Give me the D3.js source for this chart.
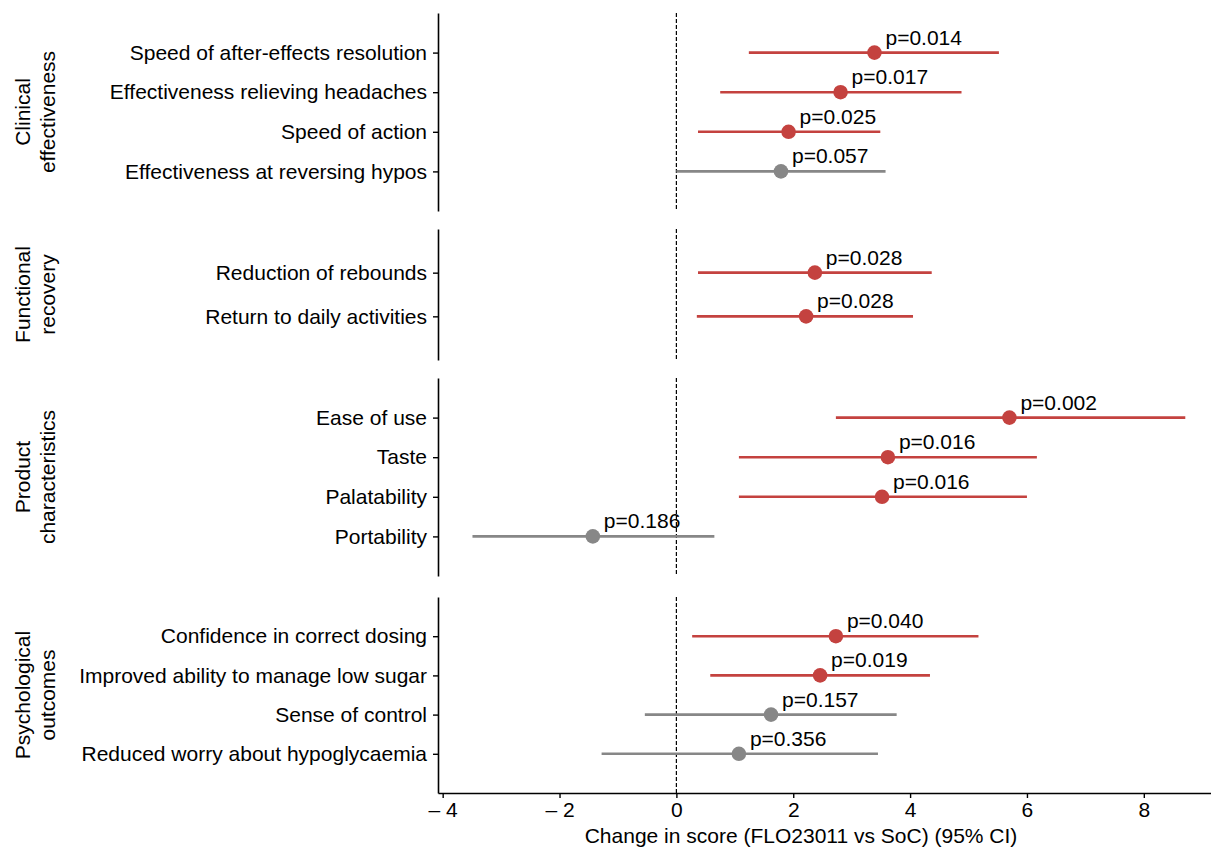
<!DOCTYPE html>
<html>
<head>
<meta charset="utf-8">
<script src="https://cdn.jsdelivr.net/npm/d3@7"></script>
<style>
  body { margin: 0; background: #fff; }
  text { font-family: "Liberation Sans", Arial, sans-serif; }
</style>
</head>
<body>
<svg id="chart" width="1211" height="847"></svg>
<script>
// panel groups and the outcomes inside each one
const groups = [
  ["Clinical", "effectiveness"],
  ["Functional", "recovery"],
  ["Product", "characteristics"],
  ["Psychological", "outcomes"]
];
const outcomes = [
  "Speed of after-effects resolution", "Effectiveness relieving headaches", "Speed of action", "Effectiveness at reversing hypos",
  "Reduction of rebounds", "Return to daily activities",
  "Ease of use", "Taste", "Palatability", "Portability",
  "Confidence in correct dosing", "Improved ability to manage low sugar", "Sense of control", "Reduced worry about hypoglycaemia"
];
const groupIndex = [0, 0, 0, 0, 1, 1, 2, 2, 2, 2, 3, 3, 3, 3];
const estimate = [3.39, 2.81, 1.92, 1.79, 2.37, 2.22, 5.70, 3.62, 3.52, -1.43, 2.73, 2.46, 1.62, 1.07];
const lower    = [1.24, 0.75, 0.37, 0.00, 0.37, 0.35, 2.73, 1.07, 1.07, -3.49, 0.27, 0.58, -0.54, -1.28];
const upper    = [5.52, 4.88, 3.49, 3.58, 4.37, 4.05, 8.71, 6.17, 6.00, 0.65, 5.17, 4.34, 3.77, 3.45];
const pvalue   = ["0.014", "0.017", "0.025", "0.057", "0.028", "0.028", "0.002", "0.016", "0.016", "0.186", "0.040", "0.019", "0.157", "0.356"];
const xTicks = [-4, -2, 0, 2, 4, 6, 8];

const data = outcomes.map((name, i) => ({
  name, group: groupIndex[i], est: estimate[i], lo: lower[i], hi: upper[i], p: pvalue[i]
}));

const red = "#c4423f", grey = "#878787";
const fontSize = 21;

// panel layout (vertical extents of each facet)
const plotLeft = 438, plotRight = 1211;
const panels = [[13, 211], [229, 360], [378, 576], [597, 793]];

const svg = d3.select("#chart");

const x = d3.scaleLinear().domain([-4.08, 9.15]).range([plotLeft, plotRight]);

panels.forEach(([top, bottom], g) => {
  const rows = data.filter(d => d.group === g);
  const y = d3.scalePoint().domain(rows.map(d => d.name)).range([top, bottom]).padding(1);

  const panel = svg.append("g");

  // y axis with outcome names
  const yAxis = panel.append("g")
    .attr("transform", `translate(${plotLeft},0)`)
    .call(d3.axisLeft(y).tickSize(5).tickPadding(6).tickSizeOuter(0));
  yAxis.select(".domain").attr("stroke-width", 1.6);
  yAxis.selectAll(".tick line").attr("stroke-width", 1.4);
  yAxis.selectAll("text").attr("font-size", fontSize).attr("fill", "#000");

  // reference line at zero
  panel.append("line")
    .attr("x1", x(0)).attr("x2", x(0))
    .attr("y1", top).attr("y2", bottom)
    .attr("stroke", "#000")
    .attr("stroke-width", 1.2)
    .attr("stroke-dasharray", "4,2");

  const col = d => (+d.p < 0.05 ? red : grey);

  panel.selectAll(".ci").data(rows).join("line")
    .attr("class", "ci")
    .attr("x1", d => x(d.lo)).attr("x2", d => x(d.hi))
    .attr("y1", d => y(d.name)).attr("y2", d => y(d.name))
    .attr("stroke", col)
    .attr("stroke-width", 2.6);

  panel.selectAll(".pt").data(rows).join("circle")
    .attr("class", "pt")
    .attr("cx", d => x(d.est)).attr("cy", d => y(d.name))
    .attr("r", 7.3)
    .attr("fill", col);

  panel.selectAll(".plab").data(rows).join("text")
    .attr("class", "plab")
    .attr("x", d => x(d.est) + 11)
    .attr("y", d => y(d.name) - 8)
    .attr("font-size", fontSize)
    .text(d => "p=" + d.p);

  // facet strip label on the left
  const lab = panel.append("text")
    .attr("transform", `translate(0,${(top + bottom) / 2}) rotate(-90)`)
    .attr("text-anchor", "middle")
    .attr("font-size", fontSize);
  lab.append("tspan").attr("x", 0).attr("y", 30).text(groups[g][0]);
  lab.append("tspan").attr("x", 0).attr("y", 55).text(groups[g][1]);

  // x axis only on the last panel
  if (g === panels.length - 1) {
    const xAxis = panel.append("g")
      .attr("transform", `translate(0,${bottom})`)
      .call(d3.axisBottom(x).tickValues(xTicks).tickSize(5).tickPadding(4).tickSizeOuter(0)
        .tickFormat(d => d < 0 ? "\u2013 " + Math.abs(d) : d));
    xAxis.select(".domain").attr("stroke-width", 1.6);
    xAxis.selectAll(".tick line").attr("stroke-width", 1.4);
    xAxis.selectAll("text").attr("font-size", fontSize).attr("fill", "#000");
  }
});

svg.append("text")
  .attr("x", 801)
  .attr("y", 843)
  .attr("text-anchor", "middle")
  .attr("font-size", fontSize)
  .text("Change in score (FLO23011 vs SoC) (95% CI)");
</script>
</body>
</html>
